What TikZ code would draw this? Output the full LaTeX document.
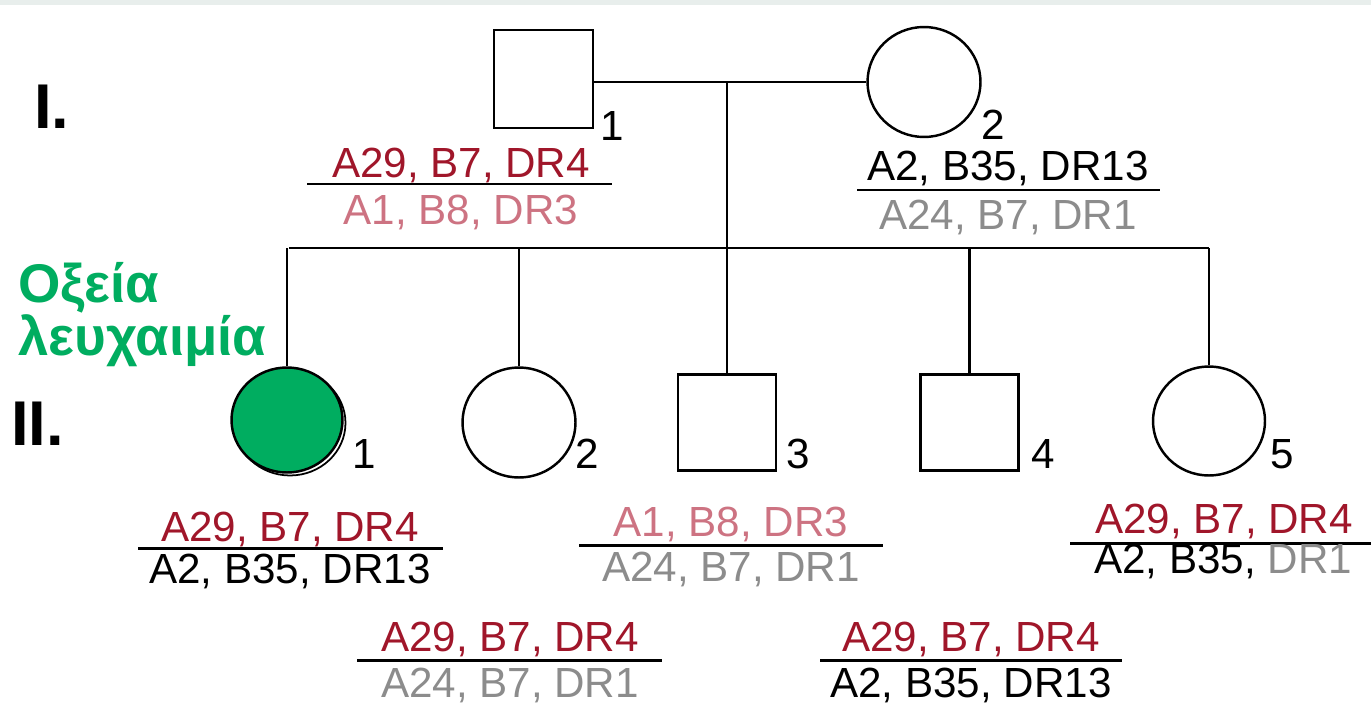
\documentclass[tikz,border=0pt]{standalone}
\usepackage{fontspec}
\setmainfont{Liberation Sans}
\usetikzlibrary{shapes.geometric}
\definecolor{hred}{RGB}{160,22,42}
\definecolor{hpink}{RGB}{205,115,130}
\definecolor{hgray}{RGB}{140,140,140}
\definecolor{hgreen}{RGB}{0,173,96}
\definecolor{band}{RGB}{232,238,236}
\begin{document}
\begin{tikzpicture}[x=0.02cm,y=-0.02cm,
  sq/.style={draw=black,line width=1.4pt,rectangle,inner sep=0pt,minimum width=1.98cm,minimum height=1.96cm},
  fem/.style={draw=black,line width=1.4pt,ellipse,inner sep=0pt,minimum width=2.26cm,minimum height=2.2cm},
  gt/.style={font=\fontsize{24}{28}\selectfont,inner sep=0pt,anchor=base},
  num/.style={font=\fontsize{24}{28}\selectfont,inner sep=0pt,anchor=base west},
  gen/.style={font=\fontsize{36}{40}\selectfont\bfseries,inner sep=0pt,anchor=base west},
  greek/.style={font=\fontsize{31}{36}\selectfont\bfseries,text=hgreen,inner sep=0pt,anchor=base west},
  conn/.style={line width=1.3pt},
  uline/.style={line width=1.7pt}]
\useasboundingbox (0,0) rectangle (1371,706);
\fill[white] (0,0) rectangle (1371,706);
\fill[band] (0,0) rectangle (1371,5);

% generation labels
\node[gen] (genI) at (34,128) {I.};
\node[gen] (genII) at (11,445) {II.};
\node[greek] (g1) at (18,302) {Οξεία};
\node[greek] (g2) at (18,355) {λευχαιμία};

% generation I
\node[sq] (I1) at (543.5,79) {};
\node[fem] (I2) at (924,82) {};
\node[num] (nI1) at (600,140) {1};
\node[num] (nI2) at (981,139) {2};

% generation II
\node[fem,line width=1pt,minimum width=2.22cm,minimum height=2.1cm] (II1s) at (290,423) {};
\node[fem,fill=hgreen,minimum width=2.22cm,minimum height=2.1cm] (II1) at (287,420) {};
\node[fem] (II2) at (519,422.5) {};
\node[sq,minimum width=1.96cm,minimum height=1.92cm] (II3) at (727,422.5) {};
\node[sq,minimum width=1.96cm,minimum height=1.92cm] (II4) at (969.5,422.5) {};
\node[fem,minimum width=2.24cm,minimum height=2.18cm] (II5) at (1209,421) {};
\node[num] (nII1) at (352,468) {1};
\node[num] (nII2) at (575,468) {2};
\node[num] (nII3) at (786,468) {3};
\node[num] (nII4) at (1031,468) {4};
\node[num] (nII5) at (1270,468) {5};

% connectors
\coordinate (m) at (727,82);
\coordinate (sL) at (289,248);
\coordinate (sR) at (1209,248);
\draw[conn] (I1.east |- I2.west) -- (I2.west);
\draw[conn] (m) -- (II3.north);
\draw[conn] (sL) -- (sR);
\draw[conn] (II1.north |- sL) -- (II1.north);
\draw[conn] (II2.north |- sL) -- (II2.north);
\draw[conn] (II4.north |- sL) -- (II4.north);
\draw[conn] (II5.north |- sL) -- (II5.north);

% haplotypes I-1
\node[gt,text=hred] (hI1a) at (461,177) {A29, B7, DR4};
\draw[uline] (307,184) -- (612,184);
\node[gt,text=hpink] (hI1b) at (461,224) {A1, B8, DR3};
% I-2
\node[gt] (hI2a) at (1008,180) {A2, B35, DR13};
\draw[uline] (857,190) -- (1160,190);
\node[gt,text=hgray] (hI2b) at (1008,229) {A24, B7, DR1};
% II-1
\node[gt,text=hred] (hII1a) at (290,541) {A29, B7, DR4};
\draw[uline] (138,548) -- (443,548);
\node[gt] (hII1b) at (290,583) {A2, B35, DR13};
% II-3
\node[gt,text=hpink] (hII3a) at (731,536) {A1, B8, DR3};
\draw[uline] (579,545) -- (883,545);
\node[gt,text=hgray] (hII3b) at (731,581) {A24, B7, DR1};
% II-5
\node[gt,text=hred] (hII5a) at (1224,533) {A29, B7, DR4};
\draw[uline] (1070,543) -- (1371,543);
\node[gt] (hII5b) at (1223,573) {A2, B35, {\color{hgray}DR1}};
% II-2
\node[gt,text=hred] (hII2a) at (510,651) {A29, B7, DR4};
\draw[uline] (357,660) -- (662,660);
\node[gt,text=hgray] (hII2b) at (510,697) {A24, B7, DR1};
% II-4
\node[gt,text=hred] (hII4a) at (971,651) {A29, B7, DR4};
\draw[uline] (820,660) -- (1122,660);
\node[gt] (hII4b) at (971,697) {A2, B35, DR13};
\end{tikzpicture}
\end{document}
